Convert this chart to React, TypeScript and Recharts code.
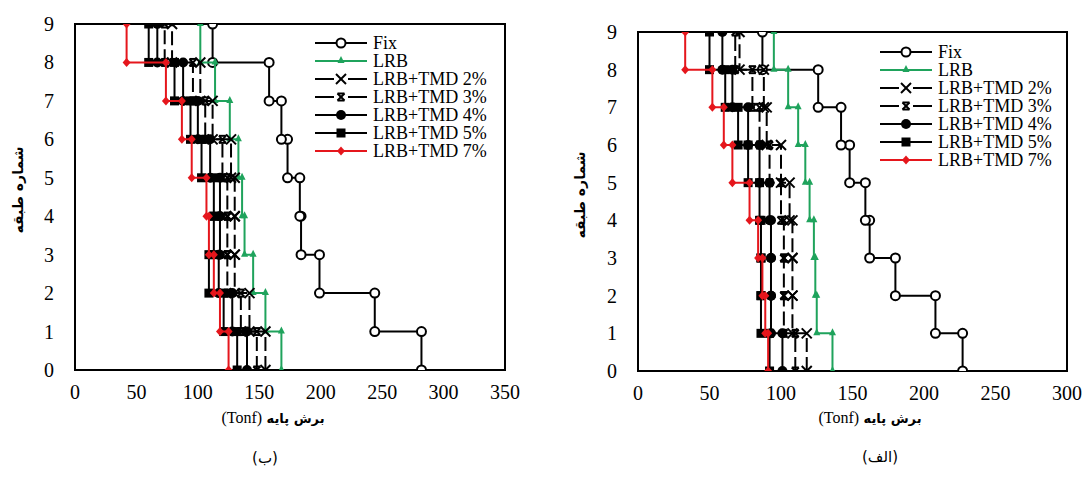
import { ScatterChart, Scatter, XAxis, YAxis, ReferenceArea, Legend } from 'recharts';

const stories = [0, 1, 2, 3, 4, 5, 6, 7, 8, 9];
const seriesNames = ['Fix', 'LRB', 'LRB+TMD 2%', 'LRB+TMD 3%', 'LRB+TMD 4%', 'LRB+TMD 5%', 'LRB+TMD 7%'];

// panel (ب): shear of each storey segment, base -> roof
const fixB = [282, 244, 199, 184, 183, 173, 168, 158, 112];
const lrbB = [168, 155, 145, 138, 136, 133, 126, 114, 102];
const tmd2B = [155, 142, 130, 130, 130, 127, 112, 102, 79];
const tmd3B = [148, 135, 124, 124, 124, 120, 106, 96, 73];
const tmd4B = [140, 128, 117, 118, 118, 110, 100, 88, 67];
const tmd5B = [132, 121, 109, 113, 113, 103, 94, 81, 60];
const tmd7B = [125, 118, 113, 109, 107, 95, 87, 74, 42];
const xTicksB = [0, 50, 100, 150, 200, 250, 300, 350];

// panel (الف)
const fixA = [227, 208, 180, 162, 159, 148, 142, 126, 87];
const lrbA = [136, 125, 124, 123, 120, 117, 112, 105, 95];
const tmd2A = [118, 108, 108, 108, 106, 100, 90, 88, 71];
const tmd3A = [110, 102, 102, 102, 100, 92, 85, 80, 68];
const tmd4A = [101, 93, 93, 93, 92, 85, 77, 66, 59];
const tmd5A = [92, 86, 86, 86, 85, 77, 70, 61, 50];
const tmd7A = [91, 89, 87, 84, 78, 66, 60, 52, 33];
const xTicksA = [0, 50, 100, 150, 200, 250, 300];

const GREEN = '#1fa35c';
const RED = '#e5161c';
const SERIF = "'Liberation Serif', 'Times New Roman', serif";

type Kind = 'open' | 'tri' | 'x' | 'bow' | 'dot' | 'square' | 'diamond';
const looks: { stroke: string; dash?: string; kind: Kind }[] = [
  { stroke: '#000', kind: 'open' },
  { stroke: GREEN, kind: 'tri' },
  { stroke: '#000', dash: '14 5', kind: 'x' },
  { stroke: '#000', dash: '14 5', kind: 'bow' },
  { stroke: '#000', kind: 'dot' },
  { stroke: '#000', kind: 'square' },
  { stroke: RED, kind: 'diamond' },
];

// each storey value becomes a vertical step from storey i to i+1
const steps = (vals: number[]) => vals.flatMap((v, i) => [{ x: v, y: stories[i] }, { x: v, y: stories[i + 1] }]);

function Marker({ cx, cy, kind }: { cx: number; cy: number; kind: Kind }) {
  if (cx == null || cy == null) return null;
  switch (kind) {
    case 'open':
      return <circle cx={cx} cy={cy} r={4.5} fill="#fff" stroke="#000" strokeWidth={2} />;
    case 'tri':
      return <polygon points={`${cx},${cy - 5} ${cx - 3.5},${cy + 2} ${cx + 3.5},${cy + 2}`} fill={GREEN} />;
    case 'x':
      return (
        <g stroke="#000" strokeWidth={2}>
          <line x1={cx - 5} y1={cy - 5} x2={cx + 5} y2={cy + 5} />
          <line x1={cx - 5} y1={cy + 5} x2={cx + 5} y2={cy - 5} />
        </g>
      );
    case 'bow':
      return (
        <g stroke="#000" strokeWidth={2}>
          <line x1={cx - 3.5} y1={cy - 3.5} x2={cx + 3.5} y2={cy + 3.5} />
          <line x1={cx - 3.5} y1={cy + 3.5} x2={cx + 3.5} y2={cy - 3.5} />
          <line x1={cx - 3.5} y1={cy - 3.5} x2={cx + 3.5} y2={cy - 3.5} />
          <line x1={cx - 3.5} y1={cy + 3.5} x2={cx + 3.5} y2={cy + 3.5} />
        </g>
      );
    case 'dot':
      return <circle cx={cx} cy={cy} r={5} fill="#000" />;
    case 'square':
      return <rect x={cx - 4.5} y={cy - 4.5} width={9} height={9} fill="#000" />;
    default:
      return <polygon points={`${cx},${cy - 4.5} ${cx + 4},${cy} ${cx},${cy + 4.5} ${cx - 4},${cy}`} fill={RED} />;
  }
}

function XTick({ x, y, payload }: any) {
  return (
    <text x={x} y={y + 29} textAnchor="middle" fill="#000" fontSize={20} style={{ fontFamily: SERIF }}>{payload.value}</text>
  );
}

function YTick({ x, y, payload }: any) {
  return (
    <text x={x} y={y + 7} textAnchor="end" fill="#000" fontSize={20} style={{ fontFamily: SERIF }}>{payload.value}</text>
  );
}

function LegendBox() {
  return (
    <div style={{ fontFamily: SERIF, fontSize: 18, color: '#000', lineHeight: '18px' }}>
      {seriesNames.map((n, i) => {
        const s = looks[i];
        const split = s.kind === 'x' || s.kind === 'bow';
        return (
          <div key={n} style={{ display: 'flex', alignItems: 'center', height: 18, whiteSpace: 'nowrap' }}>
            <svg width={58} height={18}>
              {split ? (
                <>
                  <line x1={0} y1={9} x2={19} y2={9} stroke={s.stroke} strokeWidth={2} />
                  <line x1={33} y1={9} x2={52} y2={9} stroke={s.stroke} strokeWidth={2} />
                </>
              ) : (
                <line x1={0} y1={9} x2={52} y2={9} stroke={s.stroke} strokeWidth={2} />
              )}
              <Marker cx={26} cy={9} kind={s.kind} />
            </svg>
            <span>{n}</span>
          </div>
        );
      })}
    </div>
  );
}

function Panel({ data, xMax, xTicks, width, height, top, right, yw, legendAt }: {
  data: number[][]; xMax: number; xTicks: number[]; width: number; height: number;
  top: number; right: number; yw: number; legendAt: { left: number; top: number };
}) {
  return (
    <ScatterChart width={width} height={height} margin={{ top, right, bottom: 0, left: 0 }}>
      <XAxis type="number" dataKey="x" domain={[0, xMax]} ticks={xTicks} allowDataOverflow
        axisLine={false} tickLine={false} tickSize={0} tickMargin={0} height={40} tick={<XTick />} />
      <YAxis type="number" dataKey="y" domain={[0, 9]} ticks={stories} allowDataOverflow
        axisLine={false} tickLine={false} tickSize={0} tickMargin={21} width={yw} tick={<YTick />} />
      <ReferenceArea x1={0} x2={xMax} y1={0} y2={9} fill="none" stroke="#000" strokeWidth={2} fillOpacity={0} />
      {data.map((vals, i) => (
        <Scatter key={seriesNames[i]} name={seriesNames[i]} data={steps(vals)} fill={looks[i].stroke}
          line={{ stroke: looks[i].stroke, strokeWidth: 2, strokeDasharray: looks[i].dash }}
          shape={(p: any) => <Marker cx={p.cx} cy={p.cy} kind={looks[i].kind} />}
          isAnimationActive={false} />
      ))}
      <Legend layout="vertical" align="center" verticalAlign="middle" content={() => <LegendBox />}
        wrapperStyle={{ left: legendAt.left, top: legendAt.top, width: 200, height: 'auto' }} />
    </ScatterChart>
  );
}

const faTitle = { fontFamily: "'DejaVu Sans', sans-serif", fontSize: 13, fontWeight: 700 as const, color: '#000', whiteSpace: 'nowrap' as const, lineHeight: '16px' };

function AxisTitles({ xc, xTitleY, ytx, yty, capX, capY, caption }: {
  xc: number; xTitleY: number; ytx: number; yty: number; capX: number; capY: number; caption: string;
}) {
  return (
    <>
      <div dir="rtl" style={{ ...faTitle, position: 'absolute', left: xc, top: xTitleY, transform: 'translate(-50%, -50%)' }}>
        برش پایه <span style={{ fontFamily: SERIF, fontSize: 16, fontWeight: 400 }}>(Tonf)</span>
      </div>
      <div dir="rtl" style={{ ...faTitle, fontSize: 14, position: 'absolute', left: ytx, top: yty, transform: 'translate(-50%, -50%) rotate(-90deg)' }}>
        شماره طبقه
      </div>
      <div dir="rtl" style={{ ...faTitle, fontWeight: 400, fontSize: 15, position: 'absolute', left: capX, top: capY, transform: 'translate(-50%, -50%)' }}>
        {caption}
      </div>
    </>
  );
}

export default function App() {
  return (
    <div style={{ position: 'absolute', left: 0, top: 0, width: 1087, height: 482, background: '#fff', overflow: 'hidden' }}>
      <div style={{ position: 'absolute', left: 0, top: 0 }}>
        <Panel data={[fixB, lrbB, tmd2B, tmd3B, tmd4B, tmd5B, tmd7B]} xMax={350} xTicks={xTicksB}
          width={520} height={410} top={24} right={15} yw={75} legendAt={{ left: 315, top: 34 }} />
      </div>
      <div style={{ position: 'absolute', left: 560, top: 0 }}>
        <Panel data={[fixA, lrbA, tmd2A, tmd3A, tmd4A, tmd5A, tmd7A]} xMax={300} xTicks={xTicksA}
          width={527} height={411} top={32} right={20} yw={78} legendAt={{ left: 320, top: 43 }} />
      </div>
      <AxisTitles xc={273} xTitleY={418} ytx={18} yty={190} capX={265} capY={458} caption="(ب)" />
      <AxisTitles xc={870} xTitleY={418} ytx={580} yty={195} capX={880} capY={457} caption="(الف)" />
    </div>
  );
}
